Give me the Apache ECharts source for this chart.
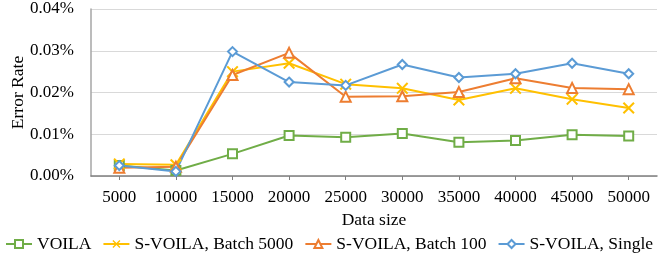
<!DOCTYPE html>
<html><head><meta charset="utf-8">
<script src="https://cdn.jsdelivr.net/npm/echarts@6/dist/echarts.min.js"></script>
<style>html,body{margin:0;padding:0;background:#fff}#c{width:664px;height:255px}</style>
</head><body><div id="c"></div>
<script>
const categories = ['5000','10000','15000','20000','25000','30000','35000','40000','45000','50000'];
const voila      = [0.0025, 0.0013, 0.0053, 0.0097, 0.0093, 0.0102, 0.0081, 0.0085, 0.0099, 0.0096];
const batch5000  = [0.0029, 0.0027, 0.0250, 0.0270, 0.0220, 0.0210, 0.0182, 0.0210, 0.0184, 0.0163];
const batch100   = [0.0020, 0.0022, 0.0242, 0.0295, 0.0190, 0.0191, 0.0201, 0.0234, 0.0211, 0.0208];
const single     = [0.0025, 0.0011, 0.0298, 0.0225, 0.0217, 0.0267, 0.0236, 0.0245, 0.0270, 0.0245];
const seriesNames = ['VOILA', 'S-VOILA, Batch 5000', 'S-VOILA, Batch 100', 'S-VOILA, Single'];

const FONT = '"Liberation Serif", "Times New Roman", serif';
const X_SYMBOL = 'path://M0,1.2L1.2,0L5,3.8L8.8,0L10,1.2L6.2,5L10,8.8L8.8,10L5,6.2L1.2,10L0,8.8L3.8,5Z';
const colors = ['#70AD47', '#FFC000', '#ED7D31', '#5B9BD5'];
const symbols = ['emptyRect', X_SYMBOL, 'emptyTriangle', 'emptyDiamond'];
const sizes = [9, 12, 10, 9];
const datas = [voila, batch5000, batch100, single];

const chart = echarts.init(document.getElementById('c'), null, {renderer: 'canvas'});
chart.setOption({
  animation: false,
  color: colors,
  grid: {left: 91, right: 7, top: 9, bottom: 79, containLabel: false, outerBoundsMode: 'none'},
  legend: {
    left: 0, top: 230, itemGap: 11, itemWidth: 26, itemHeight: 10,
    width: 664,
    textStyle: {fontFamily: FONT, fontSize: 17.5, color: '#000'},
    data: seriesNames
  },
  xAxis: {
    type: 'category', data: categories, boundaryGap: true,
    name: 'Data size', nameLocation: 'middle', nameGap: 35, nameMoveOverlap: false,
    nameTextStyle: {fontFamily: FONT, fontSize: 17.5, color: '#000'},
    axisLine: {lineStyle: {color: '#7f7f7f', width: 1.5}},
    axisTick: {show: true, alignWithLabel: true, length: 4, lineStyle: {color: '#7f7f7f'}},
    axisLabel: {fontFamily: FONT, fontSize: 17, color: '#000', margin: 13, interval: 0},
    splitLine: {show: false}
  },
  yAxis: {
    type: 'value', min: 0, max: 0.04, interval: 0.01,
    name: 'Error Rate', nameLocation: 'middle', nameGap: 64, nameRotate: 90, nameMoveOverlap: false,
    nameTextStyle: {fontFamily: FONT, fontSize: 17.5, color: '#000'},
    axisLine: {show: true, lineStyle: {color: '#a6a6a6', width: 1.5}},
    axisTick: {show: false},
    axisLabel: {fontFamily: FONT, fontSize: 17, color: '#000', margin: 17,
      formatter: v => v.toFixed(2) + '%'},
    splitLine: {lineStyle: {color: '#d9d9d9', width: 1}}
  },
  series: seriesNames.map((n, i) => ({
    name: n, type: 'line', data: datas[i],
    symbol: symbols[i], symbolSize: sizes[i],
    showAllSymbol: true,
    lineStyle: {width: 2, color: colors[i]},
    itemStyle: {color: colors[i], borderColor: colors[i], borderWidth: i === 1 ? 0 : 1.5}
  }))
});
</script></body></html>
